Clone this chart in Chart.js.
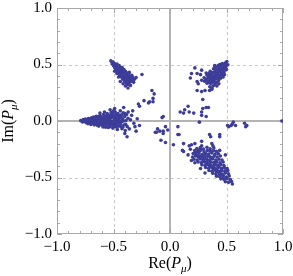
<!DOCTYPE html>
<html>
<head>
<meta charset="utf-8">
<script src="https://cdn.jsdelivr.net/npm/chart.js@4.4.1/dist/chart.umd.min.js"></script>
<style>
  html, body { margin: 0; padding: 0; background: #fff; }
  canvas { display: block; }
</style>
</head>
<body>
<canvas id="polyakovChart" width="293" height="276"></canvas>
<script>
// Axis ticks (major labels every 0.5, small ticks every 0.1)
const axisTicks = [-1.0, -0.5, 0.0, 0.5, 1.0];
const minorTicks = [-0.9, -0.8, -0.7, -0.6, -0.4, -0.3, -0.2, -0.1, 0.1, 0.2, 0.3, 0.4, 0.6, 0.7, 0.8, 0.9];

// Cluster along the negative real axis
const westCluster = [
    [-0.79, 0.003], [-0.775, -0.008], [-0.768, 0.012], [-0.755, -0.002], [-0.748, 0.018], [-0.742, -0.016],
    [-0.733, 0.006], [-0.726, -0.024], [-0.72, 0.022], [-0.714, -0.006], [-0.707, 0.012], [-0.70, -0.03],
    [-0.694, 0.028], [-0.688, -0.014], [-0.681, 0.004], [-0.676, 0.036], [-0.671, -0.034], [-0.664, 0.018],
    [-0.659, -0.008], [-0.652, 0.041], [-0.648, -0.026], [-0.642, 0.006], [-0.636, 0.027], [-0.631, -0.045],
    [-0.626, -0.015], [-0.62, 0.048], [-0.615, 0.015], [-0.611, -0.032], [-0.604, 0.033], [-0.598, -0.004],
    [-0.593, -0.052], [-0.588, 0.058], [-0.583, 0.021], [-0.577, -0.022], [-0.572, 0.044], [-0.566, -0.041],
    [-0.561, 0.002], [-0.556, 0.067], [-0.551, 0.028], [-0.546, -0.058], [-0.541, -0.017], [-0.536, 0.05],
    [-0.531, 0.012], [-0.526, -0.036], [-0.521, 0.074], [-0.516, 0.034], [-0.511, -0.006], [-0.506, -0.063],
    [-0.501, 0.055], [-0.496, 0.018], [-0.491, -0.028], [-0.486, 0.082], [-0.481, -0.05], [-0.476, 0.04],
    [-0.471, 0.002], [-0.466, -0.075], [-0.461, 0.065], [-0.456, -0.018], [-0.451, 0.026], [-0.446, -0.044],
    [-0.44, 0.09], [-0.435, 0.048], [-0.43, -0.008], [-0.425, -0.068], [-0.42, 0.02], [-0.414, 0.072],
    [-0.408, -0.035], [-0.402, 0.04], [-0.396, -0.085], [-0.39, 0.004], [-0.384, 0.058], [-0.378, -0.05],
    [-0.372, 0.025],
    [-0.76, 0.006], [-0.738, -0.007], [-0.718, 0.003], [-0.71, 0.02], [-0.698, -0.018], [-0.685, 0.016],
    [-0.668, -0.02], [-0.662, 0.03], [-0.655, 0.0], [-0.645, -0.038], [-0.638, 0.038], [-0.628, 0.01],
    [-0.622, -0.025], [-0.61, 0.035], [-0.60, -0.035], [-0.595, 0.01], [-0.585, -0.01], [-0.58, 0.04],
    [-0.57, -0.055], [-0.565, 0.025], [-0.555, -0.025], [-0.548, 0.045], [-0.54, 0.0], [-0.53, -0.05],
    [-0.525, 0.03], [-0.515, -0.02], [-0.508, 0.065], [-0.498, -0.045], [-0.49, 0.005], [-0.48, 0.03],
    [-0.47, -0.03], [-0.46, 0.01], [-0.452, 0.048], [-0.44, -0.025], [-0.432, 0.03], [-0.418, -0.055],
    [-0.765, -0.004], [-0.745, 0.008], [-0.728, 0.014], [-0.722, -0.013], [-0.703, 0.0], [-0.69, 0.018],
    [-0.678, -0.005], [-0.673, 0.024], [-0.657, 0.017], [-0.65, -0.016], [-0.64, -0.005], [-0.633, 0.016],
    [-0.618, 0.0], [-0.607, -0.018], [-0.602, 0.022], [-0.59, -0.03], [-0.578, 0.009], [-0.573, 0.03],
    [-0.562, -0.012], [-0.558, 0.04], [-0.545, 0.015], [-0.538, -0.032], [-0.534, 0.035], [-0.52, -0.005],
    [-0.512, 0.048], [-0.503, -0.028], [-0.494, 0.038], [-0.485, -0.012], [-0.477, 0.06], [-0.468, -0.05],
    [-0.458, 0.035], [-0.447, 0.005], [-0.438, -0.045], [-0.428, 0.055], [-0.41, 0.0], [-0.398, 0.065],
    [-0.392, -0.03],
    [-0.62, 0.07], [-0.58, 0.08], [-0.50, 0.09], [-0.53, 0.10], [-0.49, 0.11], [-0.41, 0.12],
    [-0.37, 0.08], [-0.34, 0.05], [-0.35, 0.01], [-0.33, 0.09], [-0.29, 0.02], [-0.32, -0.02],
    [-0.31, -0.05], [-0.36, -0.07], [-0.38, -0.14], [-0.30, -0.09], [-0.27, -0.04], [-0.40, -0.11]
];

// Cluster near arg = 3pi/4
const northWestCluster = [
    [-0.523, 0.532], [-0.512, 0.505], [-0.503, 0.521], [-0.498, 0.487], [-0.492, 0.508], [-0.488, 0.468],
    [-0.482, 0.495], [-0.478, 0.452], [-0.474, 0.481], [-0.469, 0.503], [-0.466, 0.436], [-0.463, 0.466],
    [-0.458, 0.49], [-0.455, 0.42], [-0.452, 0.448], [-0.448, 0.475], [-0.444, 0.405], [-0.441, 0.432],
    [-0.437, 0.46], [-0.433, 0.389], [-0.43, 0.418], [-0.426, 0.445], [-0.423, 0.472], [-0.419, 0.372],
    [-0.416, 0.401], [-0.412, 0.43], [-0.408, 0.455], [-0.405, 0.356], [-0.402, 0.386], [-0.398, 0.414],
    [-0.395, 0.44], [-0.391, 0.34], [-0.388, 0.37], [-0.384, 0.398], [-0.38, 0.425], [-0.377, 0.325],
    [-0.374, 0.355], [-0.37, 0.384], [-0.366, 0.41], [-0.362, 0.34], [-0.358, 0.368], [-0.354, 0.392],
    [-0.35, 0.315], [-0.346, 0.35], [-0.342, 0.377], [-0.338, 0.404], [-0.333, 0.36], [-0.328, 0.385],
    [-0.322, 0.342], [-0.315, 0.37], [-0.372, 0.292], [-0.30, 0.385], [-0.248, 0.412], [-0.47, 0.42],
    [-0.455, 0.39], [-0.44, 0.35], [-0.415, 0.33], [-0.49, 0.44], [-0.36, 0.43], [-0.395, 0.31],
    [-0.51, 0.52], [-0.495, 0.497], [-0.485, 0.48], [-0.472, 0.462], [-0.46, 0.455], [-0.45, 0.435],
    [-0.438, 0.418], [-0.428, 0.40], [-0.418, 0.385], [-0.406, 0.372], [-0.394, 0.355], [-0.38, 0.34],
    [-0.368, 0.325], [-0.375, 0.398], [-0.39, 0.425], [-0.405, 0.44], [-0.42, 0.458], [-0.435, 0.475],
    [-0.45, 0.49], [-0.465, 0.48], [-0.355, 0.38], [-0.34, 0.39]
];

// Cluster near arg = pi/4
const northEastCluster = [
    [0.503, 0.527], [0.488, 0.512], [0.512, 0.497], [0.476, 0.496], [0.495, 0.48], [0.462, 0.508],
    [0.452, 0.485], [0.472, 0.468], [0.49, 0.452], [0.438, 0.47], [0.458, 0.448], [0.476, 0.43],
    [0.425, 0.49], [0.418, 0.455], [0.44, 0.438], [0.46, 0.415], [0.405, 0.475], [0.398, 0.44],
    [0.422, 0.422], [0.443, 0.402], [0.385, 0.462], [0.378, 0.428], [0.402, 0.41], [0.424, 0.39],
    [0.448, 0.378], [0.365, 0.412], [0.386, 0.394], [0.408, 0.374], [0.43, 0.358], [0.356, 0.44],
    [0.345, 0.398], [0.368, 0.382], [0.39, 0.362], [0.412, 0.342], [0.335, 0.378], [0.355, 0.362],
    [0.376, 0.344], [0.398, 0.322], [0.328, 0.405], [0.318, 0.368], [0.338, 0.352], [0.36, 0.332],
    [0.306, 0.352], [0.327, 0.335], [0.382, 0.312], [0.432, 0.33], [0.482, 0.41], [0.50, 0.455],
    [0.32, 0.425], [0.302, 0.382], [0.352, 0.302], [0.372, 0.292], [0.415, 0.31], [0.47, 0.39],
    [0.345, 0.42], [0.395, 0.49], [0.44, 0.50],
    [0.49, 0.495], [0.475, 0.482], [0.46, 0.465], [0.448, 0.452], [0.432, 0.44], [0.418, 0.425],
    [0.405, 0.395], [0.39, 0.38], [0.375, 0.362], [0.36, 0.35], [0.345, 0.34], [0.43, 0.405],
    [0.45, 0.43], [0.465, 0.445], [0.415, 0.38], [0.395, 0.345], [0.41, 0.46], [0.39, 0.425],
    [0.37, 0.40], [0.355, 0.385], [0.43, 0.378], [0.46, 0.395]
];

// Cluster near arg = -pi/4
const southEastCluster = [
    [0.238, -0.243], [0.268, -0.236], [0.296, -0.248], [0.327, -0.232], [0.355, -0.245], [0.388, -0.238],
    [0.218, -0.262], [0.245, -0.27], [0.272, -0.258], [0.301, -0.272], [0.33, -0.26], [0.358, -0.268],
    [0.384, -0.262], [0.412, -0.27],
    [0.205, -0.288], [0.232, -0.295], [0.258, -0.284], [0.286, -0.296], [0.314, -0.286], [0.342, -0.293],
    [0.37, -0.283], [0.398, -0.295], [0.428, -0.29],
    [0.20, -0.318], [0.226, -0.31], [0.252, -0.32], [0.279, -0.309], [0.307, -0.319], [0.335, -0.311],
    [0.362, -0.321], [0.39, -0.312], [0.418, -0.318], [0.446, -0.31],
    [0.212, -0.338], [0.24, -0.345], [0.268, -0.336], [0.295, -0.346], [0.323, -0.337], [0.351, -0.343],
    [0.378, -0.335], [0.405, -0.345], [0.433, -0.338], [0.46, -0.346],
    [0.248, -0.362], [0.276, -0.37], [0.304, -0.361], [0.332, -0.369], [0.36, -0.36], [0.387, -0.368],
    [0.414, -0.362], [0.442, -0.37], [0.47, -0.363],
    [0.282, -0.388], [0.31, -0.394], [0.338, -0.386], [0.366, -0.395], [0.394, -0.387], [0.421, -0.393],
    [0.449, -0.385], [0.477, -0.394],
    [0.315, -0.412], [0.342, -0.419], [0.37, -0.41], [0.398, -0.418], [0.426, -0.411], [0.453, -0.419],
    [0.481, -0.412], [0.505, -0.42],
    [0.345, -0.438], [0.373, -0.445], [0.401, -0.436], [0.429, -0.444], [0.457, -0.437], [0.485, -0.445],
    [0.512, -0.438],
    [0.378, -0.462], [0.406, -0.47], [0.434, -0.461], [0.462, -0.469], [0.49, -0.46], [0.518, -0.468],
    [0.412, -0.488], [0.44, -0.494], [0.468, -0.486], [0.496, -0.495], [0.524, -0.487],
    [0.45, -0.512], [0.478, -0.518], [0.506, -0.51], [0.534, -0.519],
    [0.49, -0.537], [0.518, -0.543], [0.545, -0.536], [0.552, -0.557],
    [0.225, -0.28], [0.25, -0.305], [0.275, -0.325], [0.30, -0.33], [0.33, -0.35], [0.355, -0.38],
    [0.385, -0.40], [0.41, -0.43], [0.44, -0.455], [0.47, -0.48], [0.50, -0.50], [0.29, -0.36],
    [0.32, -0.38], [0.35, -0.40], [0.38, -0.42], [0.41, -0.45], [0.44, -0.475], [0.47, -0.50],
    [0.345, -0.31], [0.37, -0.33], [0.40, -0.37], [0.43, -0.40], [0.46, -0.42], [0.49, -0.44],
    [0.26, -0.26], [0.31, -0.30],
    [0.12, -0.27], [0.16, -0.30], [0.19, -0.35], [0.22, -0.37], [0.31, -0.46], [0.27, -0.42],
    [0.22, -0.20], [0.37, -0.20], [0.38, -0.22], [0.41, -0.27], [0.44, -0.26], [0.49, -0.30]
];

// Loose points between the clusters
const scatteredPoints = [
    [-0.28, 0.15], [-0.27, 0.13], [-0.23, 0.18], [-0.19, 0.16], [-0.18, 0.17], [-0.15, 0.20],
    [-0.16, 0.27], [-0.14, 0.24], [-0.15, 0.17], [-0.06, 0.04], [-0.07, 0.03],
    [-0.11, -0.07], [-0.12, -0.10], [-0.06, -0.09], [-0.04, -0.05], [-0.02, -0.08], [-0.13, -0.10],
    [-0.09, -0.09], [-0.06, -0.11], [-0.08, -0.17], [-0.04, -0.19], [0.03, -0.21],
    [0.07, -0.05], [0.07, -0.12], [0.08, -0.12], [0.12, -0.20], [0.11, -0.26], [0.17, -0.22],
    [0.18, -0.25], [0.19, -0.21], [0.28, -0.18], [0.28, -0.22], [0.35, -0.12], [0.36, -0.14],
    [0.44, -0.12], [0.44, -0.14],
    [0.22, 0.47], [0.19, 0.42], [0.24, 0.42], [0.18, 0.38], [0.28, 0.45], [0.27, 0.41], [0.24, 0.35],
    [0.25, 0.33], [0.28, 0.36], [0.24, 0.27], [0.28, 0.26], [0.31, 0.27], [0.35, 0.27], [0.37, 0.28],
    [0.29, 0.19], [0.29, 0.11], [0.32, 0.12], [0.34, 0.12], [0.28, 0.08], [0.28, 0.05], [0.32, 0.04],
    [0.09, 0.08], [0.12, 0.07], [0.13, 0.10], [0.16, 0.13], [0.17, 0.08], [0.21, 0.07], [0.26, -0.01],
    [0.51, -0.04], [0.54, -0.04], [0.56, -0.01], [0.58, -0.04], [0.52, -0.05], [0.55, -0.03],
    [0.66, -0.02], [0.68, -0.04], [0.67, -0.05], [0.99, 0.0]
];

const pointColor = '#3d3d99';
const serif = '"Liberation Serif", "DejaVu Serif", serif';

const allPoints = [].concat(westCluster, northWestCluster, northEastCluster, southEastCluster, scatteredPoints)
    .map(p => ({ x: p[0], y: p[1] }));

function formatTick(v) {
    const r = Math.round(v * 10) / 10;
    return (r < 0 ? '\u2212' : '') + Math.abs(r).toFixed(1);
}

// Draw text made of several pieces (regular, italic, subscript)
function drawRichText(ctx, parts, cx, baseline) {
    let total = 0;
    parts.forEach(p => { ctx.font = p.font; p.w = ctx.measureText(p.text).width; total += p.w; });
    let x = cx - total / 2;
    parts.forEach(p => {
        ctx.font = p.font;
        ctx.fillText(p.text, x, baseline + (p.dy || 0));
        x += p.w;
    });
}

function titleParts(prefix) {
    return [
        { text: prefix + '(', font: '16px ' + serif },
        { text: 'P', font: 'italic 16px ' + serif },
        { text: '\u03bc', font: 'italic 11px ' + serif, dy: 4 },
        { text: ')', font: '16px ' + serif }
    ];
}

// keep the plot box fixed: no extra room for overhanging tick labels
function fixScale(size) {
    return s => {
        if (s.isHorizontal()) s.height = size; else s.width = size;
        s.paddingLeft = s.paddingRight = s.paddingTop = s.paddingBottom = 0;
    };
}

// Frame, grid and inward ticks in the Mathematica style
const framePlugin = {
    id: 'frame',
    beforeDatasetsDraw(chart) {
        const ctx = chart.ctx;
        const a = chart.chartArea;
        const xs = chart.scales.x, ys = chart.scales.y;
        ctx.save();

        ctx.strokeStyle = '#c8c8c8';
        ctx.lineWidth = 1;
        ctx.setLineDash([3, 3]);
        [-0.5, 0.5].forEach(v => {
            const px = Math.round(xs.getPixelForValue(v)) + 0.5;
            ctx.beginPath(); ctx.moveTo(px, a.top); ctx.lineTo(px, a.bottom); ctx.stroke();
            const py = Math.round(ys.getPixelForValue(v)) + 0.5;
            ctx.beginPath(); ctx.moveTo(a.left, py); ctx.lineTo(a.right, py); ctx.stroke();
        });
        ctx.setLineDash([]);

        ctx.strokeStyle = '#b4b4b4';
        ctx.lineWidth = 2;
        const x0 = Math.round(xs.getPixelForValue(0));
        const y0 = Math.round(ys.getPixelForValue(0));
        ctx.beginPath(); ctx.moveTo(x0, a.top); ctx.lineTo(x0, a.bottom); ctx.stroke();
        ctx.beginPath(); ctx.moveTo(a.left, y0); ctx.lineTo(a.right, y0); ctx.stroke();

        ctx.strokeStyle = '#a8a8a8';
        ctx.lineWidth = 1;
        ctx.strokeRect(a.left + 0.5, a.top + 0.5, a.right - a.left - 1, a.bottom - a.top - 1);

        const drawTicks = (values, len) => {
            values.forEach(v => {
                const px = Math.round(xs.getPixelForValue(v)) + 0.5;
                ctx.beginPath();
                ctx.moveTo(px, a.bottom); ctx.lineTo(px, a.bottom - len);
                ctx.moveTo(px, a.top); ctx.lineTo(px, a.top + len);
                ctx.stroke();
                const py = Math.round(ys.getPixelForValue(v)) + 0.5;
                ctx.beginPath();
                ctx.moveTo(a.left, py); ctx.lineTo(a.left + len, py);
                ctx.moveTo(a.right, py); ctx.lineTo(a.right - len, py);
                ctx.stroke();
            });
        };
        drawTicks(axisTicks, 5);
        drawTicks(minorTicks, 3);
        ctx.restore();
    },
    afterDraw(chart) {
        const ctx = chart.ctx;
        const a = chart.chartArea;
        ctx.save();
        ctx.fillStyle = '#000';
        ctx.textBaseline = 'alphabetic';
        ctx.textAlign = 'left';
        drawRichText(ctx, titleParts('Re'), (a.left + a.right) / 2, 268);
        ctx.translate(13, (a.top + a.bottom) / 2);
        ctx.rotate(-Math.PI / 2);
        drawRichText(ctx, titleParts('Im'), 0, 0);
        ctx.restore();
    }
};

new Chart(document.getElementById('polyakovChart').getContext('2d'), {
    type: 'scatter',
    data: {
        datasets: [{
            data: allPoints,
            backgroundColor: pointColor,
            borderWidth: 0,
            pointRadius: 1.8,
            pointHoverRadius: 1.8
        }]
    },
    options: {
        responsive: false,
        animation: false,
        devicePixelRatio: 1,
        layout: { padding: { top: 8, right: 10, left: 0, bottom: 0 } },
        plugins: {
            legend: { display: false },
            tooltip: { enabled: false }
        },
        scales: {
            x: {
                type: 'linear',
                min: -1, max: 1,
                afterBuildTicks: s => { s.ticks = axisTicks.map(v => ({ value: v })); },
                afterFit: fixScale(42),
                grid: { display: false, drawTicks: false },
                border: { display: false },
                ticks: { padding: 4, color: '#000', font: { family: serif, size: 15 }, callback: formatTick, maxRotation: 0 }
            },
            y: {
                type: 'linear',
                min: -1, max: 1,
                afterBuildTicks: s => { s.ticks = axisTicks.map(v => ({ value: v })); },
                afterFit: fixScale(57),
                grid: { display: false, drawTicks: false },
                border: { display: false },
                ticks: { padding: 5, color: '#000', font: { family: serif, size: 15 }, callback: formatTick }
            }
        }
    },
    plugins: [framePlugin]
});
</script>
</body>
</html>
